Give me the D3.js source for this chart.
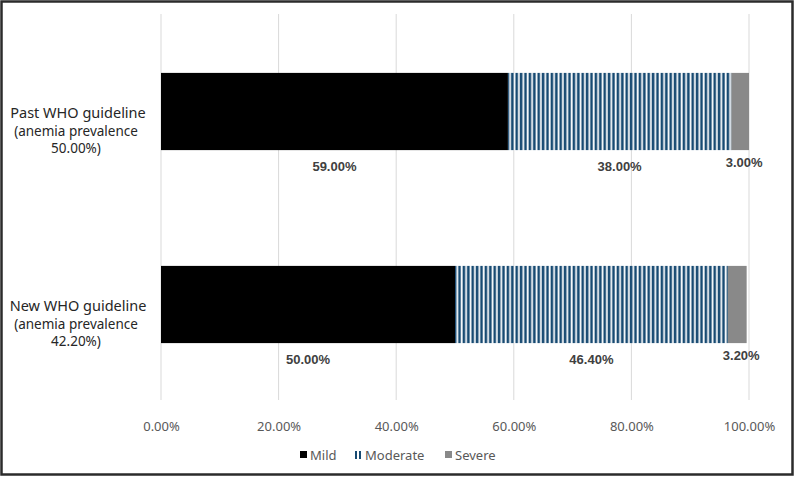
<!DOCTYPE html>
<html>
<head>
<meta charset="utf-8">
<script src="https://cdn.jsdelivr.net/npm/d3@7"></script>
<style>
  body { margin: 0; background: #fff; }
  svg { display: block; }
</style>
</head>
<body>
<div id="chart"></div>
<script>
// data
const categories = ["Past WHO guideline", "New WHO guideline"]
const prevalence = ["50.00%", "42.20%"]
const severities = ["Mild", "Moderate", "Severe"]
const mild = [59.0, 50.0]
const moderate = [38.0, 46.4]
const severe = [3.0, 3.2]
const xTicks = [0, 20, 40, 60, 80, 100]

const W = 794, H = 477
const MARGIN = { LEFT: 161, RIGHT: 45, TOP: 14, BOTTOM: 72 }

const svg = d3.select("#chart").append("svg")
  .attr("width", W)
  .attr("height", H)

svg.append("rect")
  .attr("x", 1.5).attr("y", 1.5)
  .attr("width", W - 3).attr("height", H - 4)
  .attr("fill", "white")
  .attr("stroke", "#2b2b2b")
  .attr("stroke-width", 2.5)

// stripe pattern for Moderate
const defs = svg.append("defs")
const pat = defs.append("pattern")
  .attr("id", "stripes")
  .attr("patternUnits", "userSpaceOnUse")
  .attr("width", 4.4).attr("height", 10)
pat.append("rect").attr("width", 4.4).attr("height", 10).attr("fill", "white")
pat.append("rect").attr("x", 0.6).attr("width", 2.6).attr("height", 10).attr("fill", "#174a72")

const x = d3.scaleLinear()
  .domain([0, 100])
  .range([MARGIN.LEFT, W - MARGIN.RIGHT])

const y = d3.scaleBand()
  .domain(categories)
  .range([15, 401])
  .paddingInner(0.6)
  .paddingOuter(0.3)

// gridlines
svg.append("g")
  .selectAll("line")
  .data(xTicks)
  .enter()
  .append("line")
  .attr("x1", d => x(d)).attr("x2", d => x(d))
  .attr("y1", MARGIN.TOP).attr("y2", 400)
  .attr("stroke", "#d9d9d9")
  .attr("stroke-width", 1)

// x axis tick labels
const xAxis = svg.append("g")
  .attr("transform", `translate(0, 400)`)
  .call(d3.axisBottom(x).tickValues(xTicks).tickSize(0).tickPadding(22)
    .tickFormat(d => d.toFixed(2) + "%"))
xAxis.select(".domain").remove()
xAxis.selectAll("text")
  .attr("fill", "#595959")
  .style("font-family", "Noto Sans, sans-serif")
  .style("font-size", "13px")

const fills = { Mild: "black", Moderate: "url(#stripes)", Severe: "#898989" }
const series = { Mild: mild, Moderate: moderate, Severe: severe }

const rows = categories.map((c, i) => {
  let start = 0
  return severities.map(s => {
    const v = series[s][i]
    const seg = { cat: c, key: s, x0: start, x1: start + v, v: v }
    start += v
    return seg
  })
})

const barG = svg.append("g")
rows.forEach(segs => {
  barG.selectAll(null)
    .data(segs)
    .enter()
    .append("rect")
    .attr("x", d => x(d.x0))
    .attr("y", d => y(d.cat))
    .attr("width", d => x(d.x1) - x(d.x0))
    .attr("height", y.bandwidth())
    .attr("fill", d => fills[d.key])

  barG.selectAll(null)
    .data(segs)
    .enter()
    .append("text")
    .attr("x", d => x((d.x0 + d.x1) / 2) + (d.key === "Severe" ? 4 : 0))
    .attr("y", d => y(d.cat) + y.bandwidth() + (d.key === "Severe" ? 17 : 21))
    .attr("text-anchor", "middle")
    .attr("fill", "#404040")
    .style("font-family", "Liberation Sans, Arial, sans-serif")
    .style("font-weight", "bold")
    .style("font-size", "13px")
    .text(d => d.v.toFixed(2) + "%")
})

// category labels
const catG = svg.append("g")
categories.forEach((c, i) => {
  const cy = y(c) + y.bandwidth() / 2
  const t = catG.append("text")
    .attr("text-anchor", "middle")
    .attr("fill", "#262626")
    .style("font-family", "Noto Sans, sans-serif")
  t.append("tspan").attr("x", 78).attr("y", cy + 6)
    .style("font-size", "14.5px").text(c)
  t.append("tspan").attr("x", 76).attr("y", cy + 24)
    .style("font-size", "13.5px").text("(anemia prevalence")
  t.append("tspan").attr("x", 76).attr("y", cy + 41)
    .style("font-size", "13.5px").text(prevalence[i] + ")")
})

// legend
const legend = svg.append("g").attr("transform", "translate(300, 455)")
const legendX = [0, 55, 145]
severities.forEach((s, i) => {
  const row = legend.append("g").attr("transform", `translate(${legendX[i]}, 0)`)
  if (s === "Moderate") {
    row.append("rect").attr("x", 0).attr("y", -4).attr("width", 2).attr("height", 8).attr("fill", "#174a72")
    row.append("rect").attr("x", 4).attr("y", -4).attr("width", 2).attr("height", 8).attr("fill", "#174a72")
  } else {
    row.append("rect").attr("x", 0).attr("y", -4).attr("width", 7).attr("height", 7).attr("fill", fills[s])
  }
  row.append("text")
    .attr("x", 10).attr("y", 4.5)
    .attr("fill", "#595959")
    .style("font-family", "Noto Sans, sans-serif")
    .style("font-size", "13px")
    .text(s)
})
</script>
</body>
</html>
